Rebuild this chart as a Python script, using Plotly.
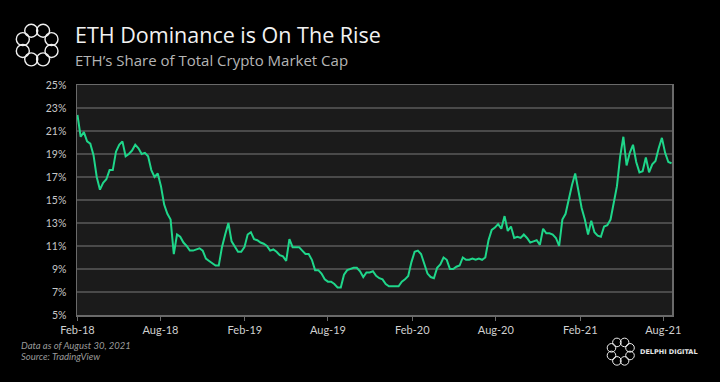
import math
import pandas as pd
import plotly.graph_objects as go

# ---- data (weekly samples) ----
START_DATE = "2018-02-01"
eth_share = [
    22.4, 20.5, 20.9, 20.1, 19.9, 18.9, 17.0, 15.9, 16.5, 16.8,
    17.6, 17.6, 19.2, 19.8, 20.1, 18.8, 19.0, 19.3, 19.8, 19.5,
    19.0, 19.1, 18.8, 17.6, 17.0, 17.3, 16.2, 14.6, 13.8, 13.3,
    10.3, 12.0, 11.8, 11.3, 11.0, 10.6, 10.6, 10.7, 10.8, 10.6,
    9.9, 9.7, 9.5, 9.3, 9.3, 10.9, 12.0, 13.0, 11.4, 10.9,
    10.5, 10.5, 10.9, 12.0, 12.2, 11.6, 11.5, 11.3, 11.2, 11.0,
    10.6, 10.7, 10.5, 10.2, 10.1, 9.7, 11.6, 10.9, 10.9, 10.9,
    10.6, 10.3, 10.3, 9.8, 8.9, 8.9, 8.6, 8.1, 7.9, 7.9,
    7.7, 7.4, 7.4, 8.5, 8.9, 9.0, 9.1, 9.1, 8.8, 8.3,
    8.7, 8.7, 8.8, 8.4, 8.2, 8.1, 7.7, 7.5, 7.5, 7.5,
    7.5, 7.9, 8.1, 8.4, 9.6, 10.5, 10.6, 10.3, 9.4, 8.6,
    8.3, 8.2, 9.1, 9.4, 10.0, 9.8, 9.0, 9.0, 9.2, 9.3,
    10.0, 9.8, 9.8, 9.9, 9.8, 9.9, 9.8, 10.0, 11.5, 12.4,
    12.6, 12.9, 12.5, 13.6, 12.3, 12.7, 11.7, 11.8, 11.7, 12.0,
    11.7, 11.3, 11.4, 11.5, 11.1, 12.5, 12.1, 12.1, 12.0, 11.7,
    11.0, 13.3, 13.8, 15.1, 16.3, 17.3, 15.7, 14.3, 13.3, 12.0,
    13.2, 12.2, 11.9, 11.8, 12.7, 12.8, 13.3, 14.9, 16.2, 18.8,
    20.5, 18.0, 19.1, 19.8, 18.3, 17.4, 17.5, 18.7, 17.4, 18.1,
    18.4, 19.5, 20.4, 19.1, 18.3, 18.2,
]
dates = pd.date_range(START_DATE, periods=len(eth_share), freq="7D")

x_tick_dates = ["2018-02-01", "2018-08-01", "2019-02-01", "2019-08-01",
                "2020-02-01", "2020-08-01", "2021-02-01", "2021-08-01"]
x_tick_labels = ["Feb-18", "Aug-18", "Feb-19", "Aug-19",
                 "Feb-20", "Aug-20", "Feb-21", "Aug-21"]
y_ticks = [5, 7, 9, 11, 13, 15, 17, 19, 21, 23, 25]
y_tick_labels = [f"{v}%" for v in y_ticks]

TITLE = "ETH Dominance is On The Rise"
SUBTITLE = "ETH\u2019s Share of Total Crypto Market Cap"
NOTE1 = "Data as of August 30, 2021"
NOTE2 = "Source: TradingView"
BRAND = "DELPHI DIGITAL"

# ---- layout geometry ----
W, H = 720, 382
L, R, T, B = 77.3, 671.7, 84.7, 315.0
PW, PH = R - L, B - T


def px(x):
    return (x - L) / PW


def py(y):
    return (B - y) / PH


fig = go.Figure()
fig.add_trace(go.Scatter(
    x=dates, y=eth_share, mode="lines",
    line=dict(color="#1fd68a", width=2),
    hoverinfo="skip", showlegend=False,
))

font_main = "Open Sans, Lato, sans-serif"

annotations = [
    dict(text=TITLE, x=px(74), y=py(34.5), xanchor="left", yanchor="middle",
         font=dict(family=font_main, size=21.5, color="#f2f2f2")),
    dict(text=SUBTITLE, x=px(74), y=py(59.5), xanchor="left", yanchor="middle",
         font=dict(family=font_main, size=15, color="#b5b5b5")),
    dict(text="<i>" + NOTE1 + "</i>", x=px(20), y=py(346), xanchor="left", yanchor="middle",
         font=dict(family="Lato, sans-serif", size=9.5, color="#9a9a9a")),
    dict(text="<i>" + NOTE2 + "</i>", x=px(20), y=py(357), xanchor="left", yanchor="middle",
         font=dict(family="Lato, sans-serif", size=9.5, color="#9a9a9a")),
    dict(text="<b>" + BRAND + "</b>", x=px(639), y=py(352),
         xanchor="left", yanchor="middle",
         font=dict(family="DejaVu Sans, sans-serif", size=6.5, color="#e6e6e6")),
]
for a in annotations:
    a.update(xref="paper", yref="paper", showarrow=False, borderpad=0)

shapes = []


def rosette(cx, cy, ring_r, loop_r, width):
    for k in range(8):
        ang = math.radians(22.5 + 45 * k)
        ox = cx + ring_r * math.cos(ang)
        oy = cy + ring_r * math.sin(ang)
        shapes.append(dict(
            type="circle", xref="paper", yref="paper",
            x0=px(ox - loop_r), x1=px(ox + loop_r),
            y0=py(oy + loop_r), y1=py(oy - loop_r),
            line=dict(color="#f0f0f0", width=width),
        ))


rosette(37.5, 44.7, 15.5, 6.5, 1.4)
rosette(620.5, 351.7, 10.0, 4.3, 1.0)

fig.update_layout(
    width=W, height=H,
    margin=dict(l=L, r=W - R, t=T, b=H - B, pad=0),
    paper_bgcolor="#000000",
    plot_bgcolor="#1b1b1b",
    showlegend=False,
    annotations=annotations,
    shapes=shapes,
    xaxis=dict(
        type="date",
        range=["2018-01-31", "2021-08-20"],
        tickvals=x_tick_dates, ticktext=x_tick_labels,
        showgrid=False, zeroline=False,
        showline=True, linecolor="#6a6a6a", linewidth=1.5, mirror=True,
        ticks="outside", ticklen=4, tickcolor="#6a6a6a", tickwidth=1,
        tickfont=dict(family="Lato, sans-serif", size=11, color="#d0d0d0"),
    ),
    yaxis=dict(
        range=[5, 25],
        tickvals=y_ticks, ticktext=y_tick_labels,
        showgrid=True, gridcolor="#4a4a4a", gridwidth=1.5,
        zeroline=False,
        showline=True, linecolor="#6a6a6a", linewidth=1.5, mirror=True,
        ticks="", ticklen=0,
        tickfont=dict(family="Lato, sans-serif", size=10.5, color="#c8c8c8"),
        ticklabelstandoff=7,
    ),
)

fig.write_html("out.html", config={"displayModeBar": False, "staticPlot": True})

# remove the default page margin so the figure sits at the window's top-left
with open("out.html", "r", encoding="utf-8") as f:
    html = f.read()
html = html.replace("<head>", "<head><style>html,body{margin:0;padding:0;overflow:hidden;background:#000;}</style>", 1)
with open("out.html", "w", encoding="utf-8") as f:
    f.write(html)
